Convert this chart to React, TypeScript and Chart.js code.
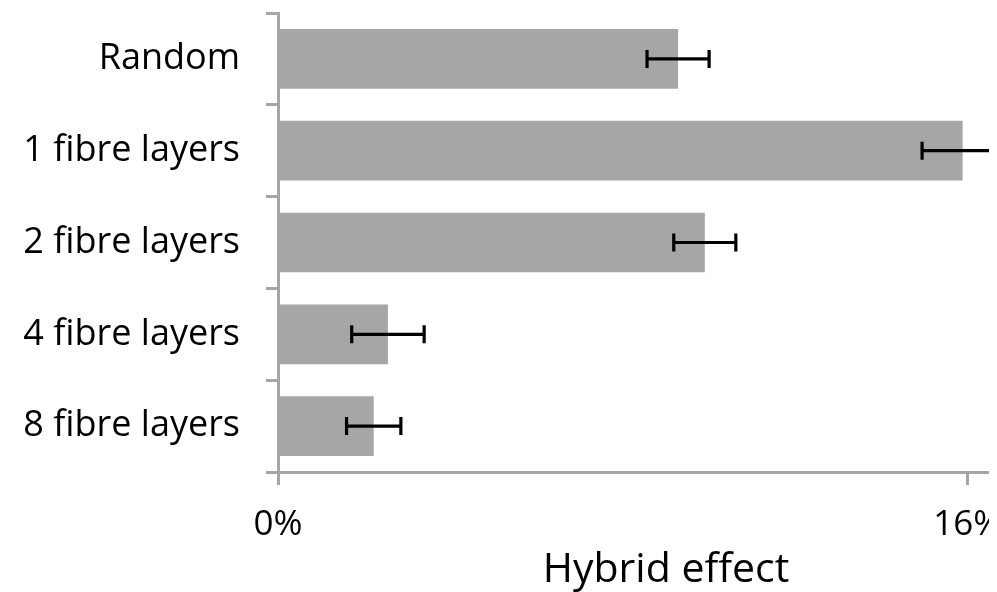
import React, { useEffect, useRef } from "react";
import { Chart, registerables } from "chart.js";

Chart.register(...registerables);

const categories = ["Random", "1 fibre layers", "2 fibre layers", "4 fibre layers", "8 fibre layers"];
const hybridEffect = [9.28, 15.88, 9.9, 2.55, 2.22];
const errors = [0.72, 0.94, 0.72, 0.84, 0.63];
const xTickValues = [0, 16];
const xMin = 0;
const xMax = 18;
const axisTitle = "Hybrid effect";

const GREY = "#a6a6a6";
const FONT = "'Open Sans', sans-serif";

const errorBarPlugin = {
  id: "errorBars",
  afterDatasetsDraw(chart: any) {
    const meta = chart.getDatasetMeta(0);
    const xs = chart.scales.x;
    const ctx = chart.ctx;
    ctx.save();
    ctx.strokeStyle = "#000";
    ctx.lineWidth = 3.2;
    meta.data.forEach((bar: any, i: number) => {
      const y = bar.y;
      const x1 = xs.getPixelForValue(hybridEffect[i] - errors[i]);
      const x2 = xs.getPixelForValue(hybridEffect[i] + errors[i]);
      const cap = 9;
      ctx.beginPath();
      ctx.moveTo(x1, y);
      ctx.lineTo(x2, y);
      ctx.moveTo(x1, y - cap);
      ctx.lineTo(x1, y + cap);
      ctx.moveTo(x2, y - cap);
      ctx.lineTo(x2, y + cap);
      ctx.stroke();
    });
    ctx.restore();
  },
};

export default function App() {
  const ref = useRef<HTMLCanvasElement | null>(null);
  useEffect(() => {
    document.documentElement.style.overflow = "hidden";
    document.body.style.overflow = "hidden";
    if (!ref.current) return;
    const chart = new Chart(ref.current, {
      type: "bar",
      data: {
        labels: categories,
        datasets: [
          {
            data: hybridEffect,
            backgroundColor: GREY,
            borderWidth: 0,
            barPercentage: 0.65,
            categoryPercentage: 1,
          },
        ],
      },
      options: {
        indexAxis: "y",
        animation: false,
        responsive: true,
        maintainAspectRatio: false,
        layout: { padding: { top: 5, right: 0, bottom: 0, left: 0 } },
        plugins: { legend: { display: false }, tooltip: { enabled: false } },
        scales: {
          x: {
            type: "linear",
            min: xMin,
            max: xMax,
            afterBuildTicks: (s: any) => {
              s.ticks = xTickValues.map((v) => ({ value: v }));
            },
            afterFit: (s: any) => {
              s.height = 120;
              s.paddingLeft = 0;
              s.paddingRight = 0;
            },
            grid: {
              drawOnChartArea: false,
              drawTicks: true,
              tickLength: 13,
              color: GREY,
              lineWidth: 3,
            },
            border: { display: true, color: GREY, width: 3 },
            ticks: {
              color: "#000",
              font: { family: FONT, size: 35 },
              padding: 19,
              maxRotation: 0,
              callback: (v: any) => v + "%",
            },
            title: {
              display: true,
              text: axisTitle,
              color: "#000",
              font: { family: FONT, size: 41, lineHeight: 1 },
              padding: { top: 0, bottom: 1 },
            },
          },
          y: {
            type: "category",
            offset: true,
            afterFit: (s: any) => {
              s.width = 270;
              s.paddingTop = 0;
              s.paddingBottom = 0;
            },
            grid: {
              drawOnChartArea: false,
              drawTicks: true,
              tickLength: 12,
              color: GREY,
              lineWidth: 3,
              offset: true,
            },
            border: { display: true, color: GREY, width: 3 },
            ticks: {
              color: "#000",
              font: { family: FONT, size: 36 },
              padding: 26,
            },
          },
        },
      },
      plugins: [errorBarPlugin],
    } as any);
    return () => chart.destroy();
  }, []);

  return (
    <div style={{ width: 989, height: 584, overflow: "hidden" }}>
      <div style={{ position: "relative", width: 1046, height: 584 }}>
        <canvas ref={ref} />
      </div>
    </div>
  );
}
